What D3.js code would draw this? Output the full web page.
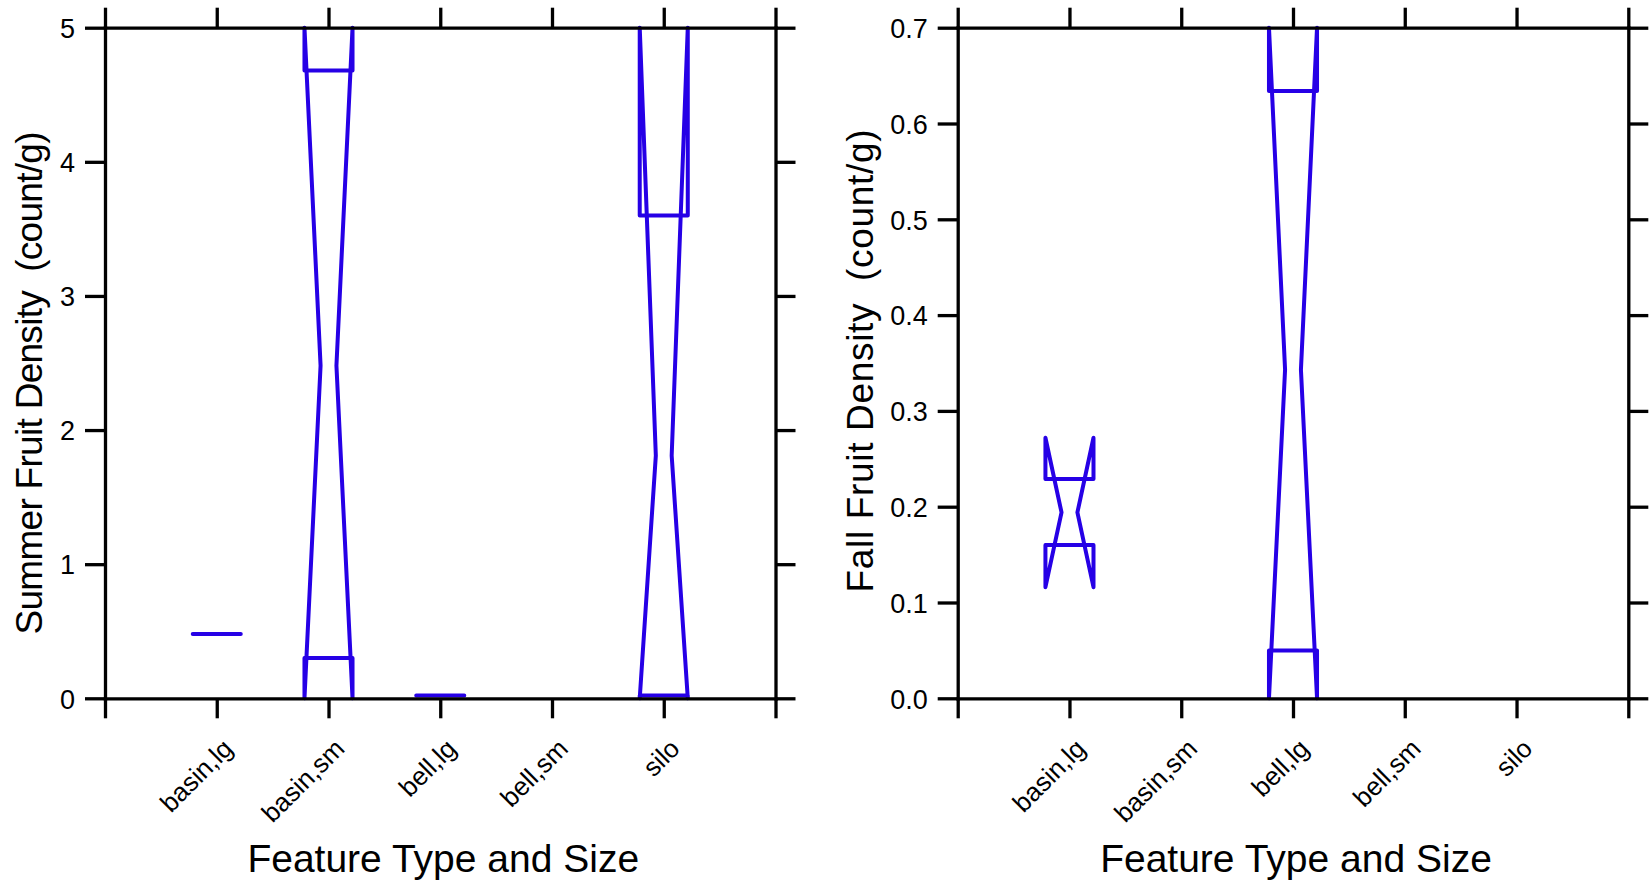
<!DOCTYPE html>
<html><head><meta charset="utf-8">
<script src="https://cdn.jsdelivr.net/npm/d3@7"></script>
<style>
body{margin:0;background:#fff}
svg{display:block}
text{font-family:"Liberation Sans",Arial,sans-serif;fill:#000}
</style>
</head><body>
<svg id="chart" width="1650" height="885"></svg>
<script>
// ---- data ----
const categories = ["basin,lg", "basin,sm", "bell,lg", "bell,sm", "silo"];

// Summer fruit density (count/g): notched box statistics per category (null = no box drawn)
const summerQ1       = [0.48, 0.30, 0.02, null, 0.02];
const summerMedian   = [0.48, 2.48, 0.02, null, 1.81];
const summerQ3       = [0.48, 4.68, 0.02, null, 3.60];
const summerNotchLow = [0.48, 0.00, 0.02, null, 0.00];
const summerNotchHigh= [0.48, 5.00, 0.02, null, 5.00];

// Fall fruit density (count/g)
const fallQ1       = [0.160, null, 0.050, null, null];
const fallMedian   = [0.194, null, 0.343, null, null];
const fallQ3       = [0.229, null, 0.634, null, null];
const fallNotchLow = [0.116, null, 0.000, null, null];
const fallNotchHigh= [0.272, null, 0.700, null, null];

const summerTicks = [0, 1, 2, 3, 4, 5];
const fallTicks = [0, 0.1, 0.2, 0.3, 0.4, 0.5, 0.6, 0.7];

const xTitle = "Feature Type and Size";
const summerTitle = "Summer Fruit Density  (count/g)";
const fallTitle = "Fall Fruit Density  (count/g)";

// ---- layout ----
const svg = d3.select("#chart");
const BLUE = "#2600e6";
const yTop = 27.7, yBottom = 698.3;
const panels = [
  {x0: 105, x1: 775.5, domain: [0, 5], ticks: summerTicks, fmt: d3.format("d"),
   q1: summerQ1, med: summerMedian, q3: summerQ3, lo: summerNotchLow, hi: summerNotchHigh,
   ytitle: summerTitle, ytx: 42, yty: 383, ylen: 503},
  {x0: 957.7, x1: 1628.3, domain: [0, 0.7], ticks: fallTicks, fmt: d3.format(".1f"),
   q1: fallQ1, med: fallMedian, q3: fallQ3, lo: fallNotchLow, hi: fallNotchHigh,
   ytitle: fallTitle, ytx: 873, yty: 361, ylen: 463}
];

panels.forEach(p => {
  const x = d3.scaleLinear().domain([0, categories.length + 1]).range([p.x0, p.x1]);
  const y = d3.scaleLinear().domain(p.domain).range([yBottom, yTop]);
  const g = svg.append("g");

  // boxes
  const halfW = 0.215, notchFrac = 0.33;
  const line = d3.line().x(d => x(d[0])).y(d => y(d[1]));
  categories.forEach((c, i) => {
    if (p.med[i] == null) return;
    const cx = i + 1, w = halfW, nw = halfW * notchFrac;
    const pts = [
      [cx - w, p.q1[i]], [cx - w, p.lo[i]], [cx - nw, p.med[i]], [cx - w, p.hi[i]], [cx - w, p.q3[i]],
      [cx + w, p.q3[i]], [cx + w, p.hi[i]], [cx + nw, p.med[i]], [cx + w, p.lo[i]], [cx + w, p.q1[i]]
    ];
    g.append("path")
      .attr("d", line(pts) + "Z")
      .attr("fill", "none")
      .attr("stroke", BLUE)
      .attr("stroke-width", 4)
      .attr("stroke-linejoin", "round")
      .attr("stroke-linecap", "round");
  });

  const xTickVals = d3.range(0, categories.length + 2);
  const styleAxis = sel => {
    sel.select(".domain").attr("stroke", "#000").attr("stroke-width", 3.3).attr("stroke-linecap", "square");
    sel.selectAll(".tick line").attr("stroke", "#000").attr("stroke-width", 3.3);
  };

  // bottom axis
  const bx = g.append("g").attr("transform", `translate(0,${yBottom})`)
    .call(d3.axisBottom(x).tickValues(xTickVals).tickSize(20).tickSizeOuter(0)
      .tickFormat(d => categories[d - 1] || ""));
  styleAxis(bx);
  bx.selectAll(".tick text")
    .attr("x", 0).attr("y", 0).attr("dy", null)
    .attr("text-anchor", "end")
    .attr("font-size", 26)
    .attr("transform", "translate(17,52) rotate(-45)");

  // top axis
  const tx = g.append("g").attr("transform", `translate(0,${yTop})`)
    .call(d3.axisTop(x).tickValues(xTickVals).tickSize(20).tickSizeOuter(0).tickFormat(""));
  styleAxis(tx);

  // left axis
  const ly = g.append("g").attr("transform", `translate(${p.x0},0)`)
    .call(d3.axisLeft(y).tickValues(p.ticks).tickSize(20).tickSizeOuter(0).tickPadding(10).tickFormat(p.fmt));
  styleAxis(ly);
  ly.selectAll(".tick text").attr("font-size", 27).attr("dy", "0.36em");

  // right axis
  const ry = g.append("g").attr("transform", `translate(${p.x1},0)`)
    .call(d3.axisRight(y).tickValues(p.ticks).tickSize(20).tickSizeOuter(0).tickFormat(""));
  styleAxis(ry);

  // titles
  g.append("text")
    .attr("x", (p.x0 + p.x1) / 2 + 3).attr("y", 872)
    .attr("text-anchor", "middle")
    .attr("font-size", 39)
    .text(xTitle);

  g.append("text")
    .attr("transform", `translate(${p.ytx},${p.yty}) rotate(-90)`)
    .attr("text-anchor", "middle")
    .attr("font-size", 37)
    .attr("textLength", p.ylen).attr("lengthAdjust", "spacing")
    .style("white-space", "pre")
    .text(p.ytitle);
});
</script>
</body></html>
